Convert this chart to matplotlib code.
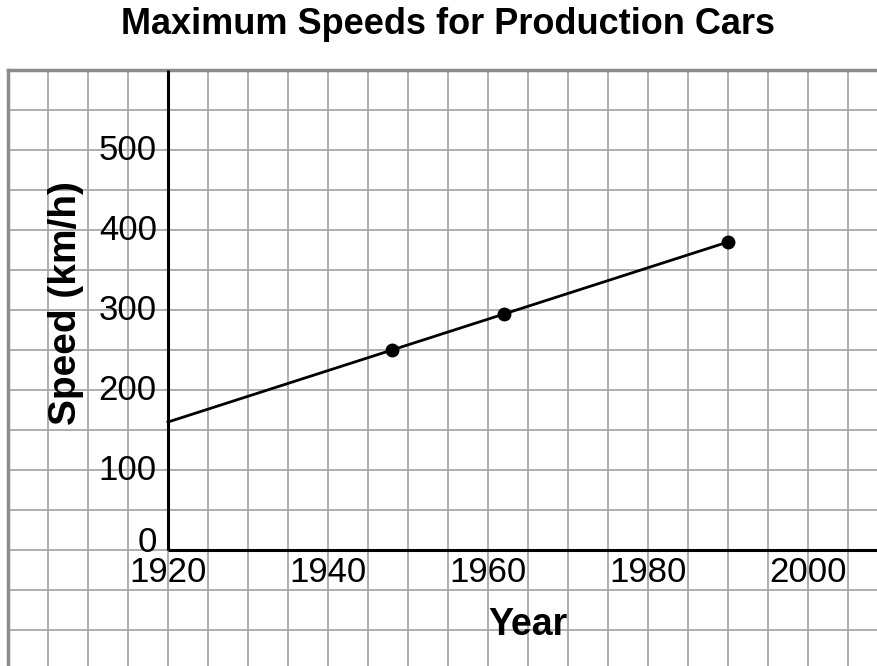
import matplotlib
matplotlib.use('Agg')
import matplotlib.pyplot as plt
import numpy as np

plt.rcParams['font.family'] = ['Liberation Sans', 'DejaVu Sans']

# data
years = [1948, 1962, 1990]
speeds = [250, 295, 385]
line_years = [1920, 1990]
line_speeds = [160, 385]
x_ticks = [1920, 1940, 1960, 1980, 2000]
y_ticks = [0, 100, 200, 300, 400, 500]

W, H = 878, 666
fig = plt.figure(figsize=(W / 100, H / 100), dpi=100)

# axes covers the grid paper: left edge x=8, top edge y=70 (pixels)
ax = fig.add_axes([8 / W, 0, (W - 8) / W, (H - 70) / H])
x_per_px = 1 / 8.0     # 40 px per 5 years
y_per_px = 1 / 0.8     # 40 px per 50 km/h
x0 = 1920 - (168 - 8) * x_per_px
x1 = x0 + (W - 8) * x_per_px
y1 = 600
y0 = y1 - (H - 70) * y_per_px
ax.set_xlim(x0, x1)
ax.set_ylim(y0, y1)

# grid paper
for gx in np.arange(1905, x1, 5):
    ax.axvline(gx, color='#a8a8a8', lw=1.3, zorder=1)
for gy in np.arange(-100, 600, 50):
    ax.axhline(gy, color='#a8a8a8', lw=1.3, zorder=1)

ax.set_xticks([])
ax.set_yticks([])
for s in ['right', 'bottom']:
    ax.spines[s].set_visible(False)
for s in ['left', 'top']:
    ax.spines[s].set_color('#8c8c8c')
    ax.spines[s].set_linewidth(2.5)

# main axes lines
ax.plot([1920, 1920], [0, y1], color='black', lw=2.2, zorder=3,
        solid_capstyle='butt')
ax.plot([1920, x1], [0, 0], color='black', lw=2.2, zorder=3,
        solid_capstyle='butt')

# tick labels
for yt in y_ticks:
    off = 10 if yt == 0 else 0
    ax.text(1918.6, yt + off, str(yt), ha='right', va='center',
            fontsize=25, zorder=4)
for xt in x_ticks:
    ax.text(xt, -8, str(xt), ha='center', va='top', fontsize=25, zorder=4)

# data
ax.plot(line_years, line_speeds, color='black', lw=2, zorder=5)
ax.plot(years, speeds, 'o', color='black', ms=9, zorder=6)

fig.text(448 / W, 1 - 25 / H, 'Maximum Speeds for Production Cars',
         ha='center', va='center', fontsize=26, fontweight='bold')
fig.text(66 / W, 1 - 303 / H, 'Speed (km/h)', ha='center', va='center',
         rotation=90, fontsize=28, fontweight='bold')
fig.text(528 / W, 1 - 625 / H, 'Year', ha='center', va='center',
         fontsize=27, fontweight='bold')

fig.savefig('out.png', dpi=100)
